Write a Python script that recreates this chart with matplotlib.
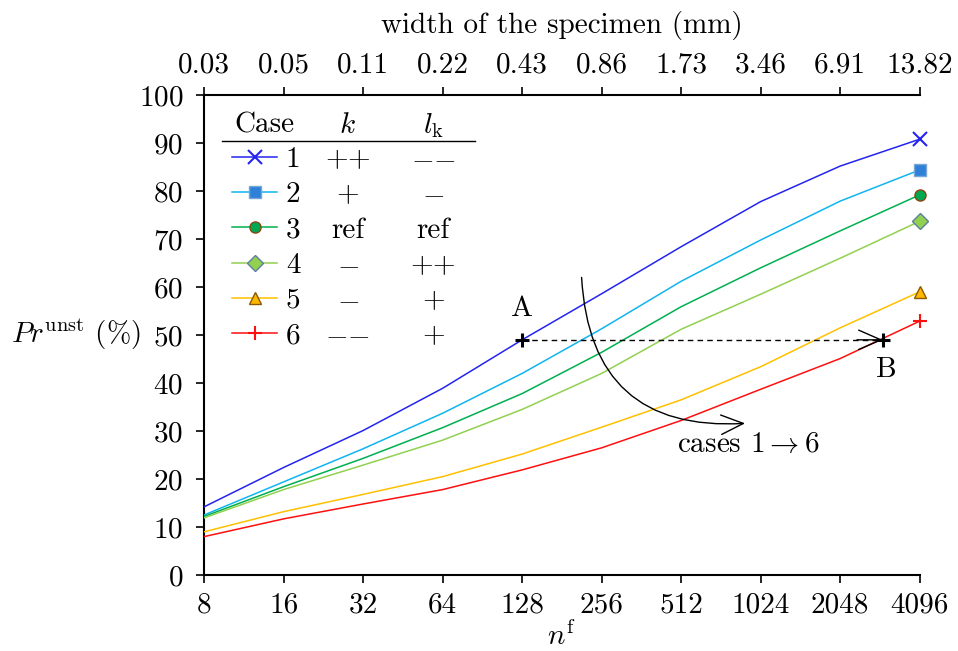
import numpy as np
import matplotlib
matplotlib.use('Agg')
import matplotlib.pyplot as plt
from matplotlib.lines import Line2D

plt.rcParams['font.family'] = ['cmr10', 'DejaVu Sans']
plt.rcParams['mathtext.fontset'] = 'cm'
plt.rcParams['axes.unicode_minus'] = False
plt.rcParams['axes.formatter.use_mathtext'] = True
plt.rcParams['font.size'] = 21

# number of fibres and matching specimen width
nf = [8, 16, 32, 64, 128, 256, 512, 1024, 2048, 4096]
width_mm = ['0.03', '0.05', '0.11', '0.22', '0.43', '0.86', '1.73', '3.46', '6.91', '13.82']

# Pr^unst (%) for each case
case1 = [14.2, 22.4, 30.1, 38.9, 49.0, 58.6, 68.4, 77.8, 85.2, 90.8]
case2 = [12.5, 19.4, 26.3, 33.7, 42.0, 51.3, 61.2, 69.8, 77.9, 84.4]
case3 = [12.2, 18.4, 24.3, 30.7, 37.8, 46.4, 55.9, 64.0, 71.7, 79.2]
case4 = [11.9, 17.8, 22.9, 28.1, 34.5, 42.0, 51.2, 58.5, 66.0, 73.7]
case5 = [9.0, 13.2, 16.8, 20.5, 25.2, 30.8, 36.5, 43.4, 51.5, 59.0]
case6 = [8.0, 11.7, 14.8, 17.8, 21.9, 26.5, 32.2, 38.7, 45.1, 52.9]
cases = [case1, case2, case3, case4, case5, case6]

case_labels = ['1', '2', '3', '4', '5', '6']
k_labels = ['${+}{+}$', '$+$', 'ref', '$-$', '$-$', '${-}{-}$']
lk_labels = ['${-}{-}$', '$-$', 'ref', '${+}{+}$', '$+$', '$+$']

line_colors = ['#2424f0', '#10b4f0', '#00b050', '#92d050', '#ffc000', '#ff1010']
markers = ['x', 's', 'o', 'D', '^', '+']
marker_fc = ['#2424f0', '#2f80d8', '#00a84f', '#92d050', '#ffb800', '#ff1010']
marker_ec = ['#2424f0', '#7aa6d4', '#8b4513', '#5b7fa0', '#8b5a00', '#ff1010']
marker_sz = [10, 8, 8, 8, 8, 10]

point_A = (128, 49)
point_B = (2965, 49)
cases_arrow_start = (215, 62)
cases_arrow_end = (894, 31.6)

fig = plt.figure(figsize=(9.58, 6.51), dpi=100)
ax = fig.add_axes([0.213, 0.1167, 0.747, 0.7373])

handles = []
for i, vals in enumerate(cases):
    ax.plot(nf, vals, color=line_colors[i], lw=1.1, zorder=3)
    ax.plot(nf[-1], vals[-1], linestyle='none', marker=markers[i], ms=marker_sz[i],
            mfc=marker_fc[i], mec=marker_ec[i], mew=1.5 if markers[i] in 'x+' else 1.0,
            zorder=4, clip_on=False)
    handles.append(Line2D([], [], color=line_colors[i], lw=1.1, marker=markers[i],
                          ms=marker_sz[i], mfc=marker_fc[i], mec=marker_ec[i],
                          mew=1.5 if markers[i] in 'x+' else 1.0))

ax.set_xscale('log', base=2)
ax.set_xlim(nf[0], nf[-1])
ax.set_ylim(0, 100)
ax.set_xticks(nf)
ax.set_xticklabels([str(v) for v in nf])
ax.set_yticks(np.arange(0, 101, 10))
ax.minorticks_off()
ax.tick_params(direction='out', length=6, width=1.2, pad=6)
ax.tick_params(axis='y', pad=9)
ax.spines['top'].set_visible(False)
ax.spines['right'].set_visible(False)
for s in ['left', 'bottom']:
    ax.spines[s].set_linewidth(1.5)
ax.set_xlabel(r'$n^{\mathrm{f}}$', labelpad=2)
ax.set_ylabel(r'$Pr^{\mathrm{unst}}$ (%)', rotation=0, va='center', ha='center')
ax.yaxis.set_label_coords(-0.179, 0.5)

ax2 = ax.twiny()
ax2.set_xscale('log', base=2)
ax2.set_xlim(nf[0], nf[-1])
ax2.set_xticks(nf)
ax2.set_xticklabels(width_mm)
ax2.minorticks_off()
ax2.tick_params(direction='out', length=6, width=1.2, pad=6)
for s in ['left', 'right', 'bottom']:
    ax2.spines[s].set_visible(False)
ax2.spines['top'].set_linewidth(1.5)
ax2.set_xlabel('width of the specimen (mm)', labelpad=14)

# A -> B
ax.plot([point_A[0], point_B[0]], [point_A[1], point_B[1]], color='k', lw=1.0,
        linestyle=(0, (4, 3)), zorder=5)
ax.annotate('', xy=point_B, xytext=(point_B[0] * 0.8, point_B[1]),
            arrowprops=dict(arrowstyle='->,head_length=0.8,head_width=0.35',
                            mutation_scale=20, color='k', lw=1.0,
                            shrinkA=0, shrinkB=0), zorder=5)
ax.plot(*point_A, marker='+', color='k', ms=10, mew=2.2, zorder=6)
ax.plot(*point_B, marker='+', color='k', ms=10, mew=2.2, zorder=6)
ax.annotate('A', xy=point_A, xytext=(0, 13), textcoords='offset points',
            ha='center', va='bottom')
ax.annotate('B', xy=point_B, xytext=(3, -12), textcoords='offset points',
            ha='center', va='top')

# cases 1 -> 6
ax.annotate('', xy=cases_arrow_end, xytext=cases_arrow_start,
            arrowprops=dict(arrowstyle='->,head_length=0.8,head_width=0.35',
                            mutation_scale=20, color='k', lw=1.0,
                            connectionstyle='arc3,rad=0.5',
                            shrinkA=0, shrinkB=0), zorder=5)
ax.annotate(r'cases $1 \rightarrow 6$', xy=cases_arrow_end, xytext=(2, -6),
            textcoords='offset points', ha='center', va='top')

# legend table
leg = ax.legend(handles, case_labels, loc='upper left', bbox_to_anchor=(0.039, 0.892),
                frameon=False, borderpad=0, borderaxespad=0, handlelength=1.55,
                handletextpad=0.3, labelspacing=0.3, numpoints=1)
fig.canvas.draw()
inv = ax.transAxes.inverted()
for t, kv, lv in zip(leg.get_texts(), k_labels, lk_labels):
    bb = t.get_window_extent()
    yc = inv.transform(((bb.x0 + bb.x1) / 2, (bb.y0 + bb.y1) / 2))[1]
    ax.text(0.201, yc, kv, transform=ax.transAxes, ha='center', va='center')
    ax.text(0.320, yc, lv, transform=ax.transAxes, ha='center', va='center')

ax.text(0.085, 0.936, 'Case', transform=ax.transAxes, ha='center', va='center')
ax.text(0.201, 0.936, '$k$', transform=ax.transAxes, ha='center', va='center')
ax.text(0.320, 0.936, r'$l_{\mathrm{k}}$', transform=ax.transAxes, ha='center', va='center')
ax.plot([0.025, 0.378], [0.904, 0.904], color='k', lw=1.0, transform=ax.transAxes,
        clip_on=False)

fig.savefig('out.png', dpi=100)
